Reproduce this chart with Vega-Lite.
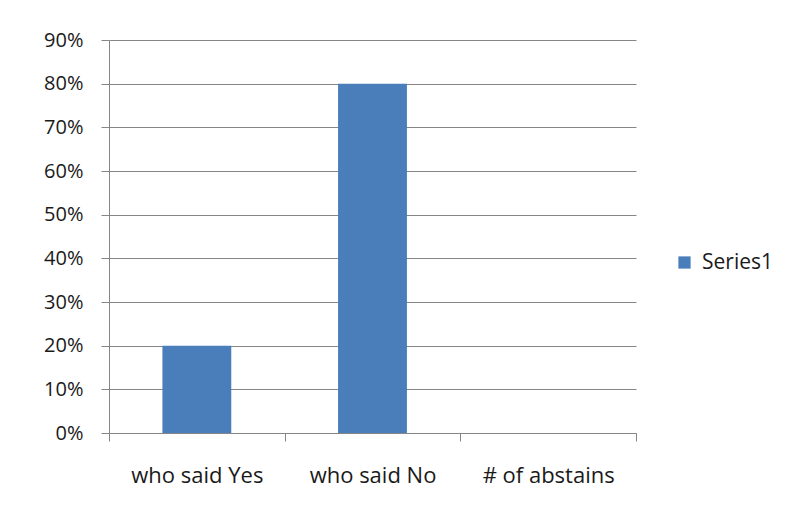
{
  "$schema": "https://vega.github.io/schema/vega-lite/v6.json",
  "width": 527,
  "height": 393,
  "autosize": "none",
  "padding": {"left": 109, "top": 40, "right": 159, "bottom": 83},
  "background": "white",
  "data": {"values": [
    {"category": "who said Yes", "value": 0.2, "series": "Series1"},
    {"category": "who said No", "value": 0.8, "series": "Series1"},
    {"category": "# of abstains", "value": 0, "series": "Series1"}
  ]},
  "mark": {"type": "bar", "color": "#4a7ebb", "width": {"band": 0.392}},
  "encoding": {
    "x": {
      "field": "category", "type": "nominal", "sort": null,
      "scale": {"paddingInner": 0, "paddingOuter": 0},
      "axis": {
        "title": null, "labelAngle": 0, "tickBand": "extent",
        "domainColor": "#868686", "tickColor": "#868686", "tickSize": 8,
        "labelFont": "Open Sans", "labelFontSize": 22, "labelColor": "#1a1a1a",
        "labelPadding": 24, "grid": false
      }
    },
    "y": {
      "field": "value", "type": "quantitative",
      "scale": {"domain": [0, 0.9], "nice": false},
      "axis": {
        "title": null, "format": ".0%",
        "values": [0, 0.1, 0.2, 0.3, 0.4, 0.5, 0.6, 0.7, 0.8, 0.9],
        "domainColor": "#868686", "tickColor": "#868686", "tickSize": 8,
        "gridColor": "#868686", "grid": true,
        "labelFont": "Open Sans", "labelFontSize": 20, "labelColor": "#1a1a1a",
        "labelPadding": 18
      }
    },
    "color": {
      "field": "series", "type": "nominal",
      "scale": {"range": ["#4a7ebb"]},
      "legend": {
        "title": null, "orient": "none", "legendX": 565, "legendY": 212,
        "symbolType": "square", "symbolSize": 150, "symbolStrokeWidth": 0,
        "labelOffset": 7,
        "labelFont": "Open Sans", "labelFontSize": 21, "labelColor": "#1a1a1a",
        "symbolFillColor": "#6f6ca8",
        "encode": {"symbols": {"enter": {"fill": {"value": "#6f6ca8"}}, "update": {"fill": {"value": "#6f6ca8"}, "opacity": {"value": 1}}}}
      }
    }
  },
  "config": {"view": {"stroke": null}}
}
